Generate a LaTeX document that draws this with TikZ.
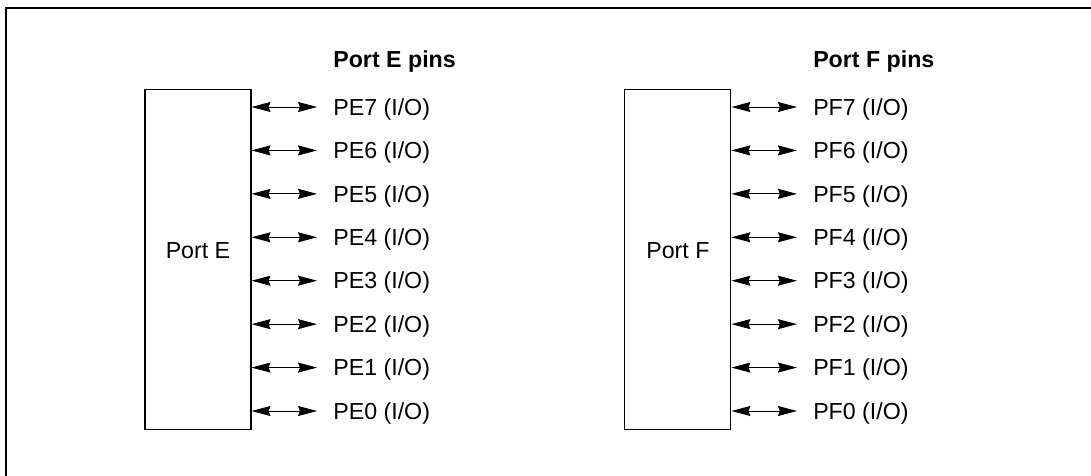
\documentclass[tikz,border=0pt]{standalone}
\usepackage{fontspec}
\setmainfont{Liberation Sans}
\usetikzlibrary{arrows.meta}

\tikzset{
  portbox/.style={draw, line width=0.6pt, minimum width=2.12cm, minimum height=6.82cm, inner sep=0pt},
  pintext/.style={font=\fontsize{13.2}{15}\selectfont, inner sep=0pt},
  pinlbl/.style={pintext, anchor=west, text height=0.33cm, text depth=0pt},
  pintitle/.style={pintext, font=\fontsize{13.2}{15}\selectfont\bfseries, anchor=base west},
  pinarrow/.style={<->, >={Stealth[length=0.38cm, width=0.2cm, inset=0.04cm]},
    line width=0.5pt, shorten >=0.32cm},
}

\begin{document}
\begin{tikzpicture}[x=0.02cm, y=-0.02cm]

\useasboundingbox (0,0) rectangle (1091,476);
\def\rowy{43.43}

% frame
\draw[line width=1.1pt] (6,476) -- (6,8) -- (1091,8);

%==== (1) Port E ====
\begin{scope}[xshift=0cm]
  \node[portbox] (pe) at (198,259.5) {};
  \node[pintext] (pename) at (198,251) {Port E};
  \node[pintitle] (petitle) at (333,68) {Port E pins};
  \foreach \i in {0,...,7}{
    \node[pinlbl] (pe\i) at (333,{107+(7-\i)*\rowy}) {PE\i{} (I/O)};
    \draw[pinarrow] (pe.east |- pe\i.west) -- (pe\i.west);
  }
\end{scope}

%==== (2) Port F ====
\begin{scope}[xshift=9.6cm]
  \node[portbox] (pf) at (198,259.5) {};
  \node[pintext] (pfname) at (198,251) {Port F};
  \node[pintitle] (pftitle) at (333,68) {Port F pins};
  \foreach \i in {0,...,7}{
    \node[pinlbl] (pf\i) at (333,{107+(7-\i)*\rowy}) {PF\i{} (I/O)};
    \draw[pinarrow] (pf.east |- pf\i.west) -- (pf\i.west);
  }
\end{scope}

\end{tikzpicture}
\end{document}
